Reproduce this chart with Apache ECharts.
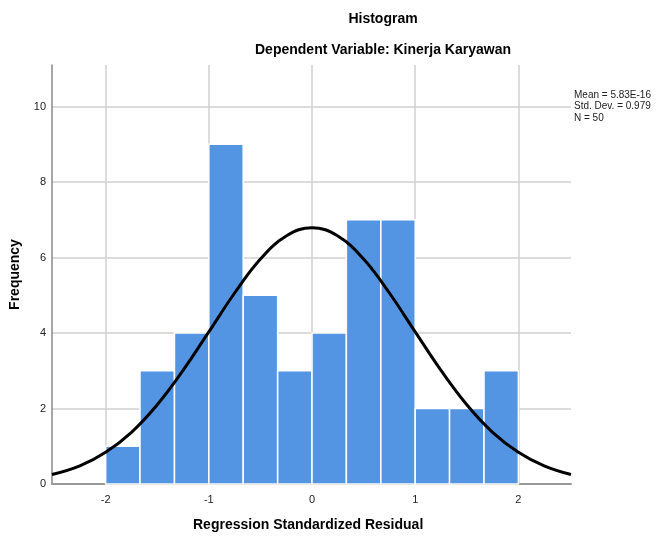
<!DOCTYPE html>
<html>
<head>
<meta charset="utf-8">
<script src="https://cdn.jsdelivr.net/npm/echarts@6/dist/echarts.min.js"></script>
<style>
html,body{margin:0;padding:0;background:#fff;}
#chart{width:656px;height:543px;}
</style>
</head>
<body>
<div id="chart"></div>
<script>
// Histogram bins (lower edges / upper edges) and frequencies
const binLow  = [-2.0, -1.667, -1.333, -1.0, -0.667, -0.333, 0.0, 0.333, 0.667, 1.0, 1.333, 1.667];
const binHigh = [-1.667, -1.333, -1.0, -0.667, -0.333, 0.0, 0.333, 0.667, 1.0, 1.333, 1.667, 2.0];
const counts  = [1, 3, 4, 9, 5, 3, 4, 7, 7, 2, 2, 3];

// Normal curve points
const curveX = [-2.52, -2.25, -2.0, -1.75, -1.5, -1.25, -1.0, -0.75, -0.5, -0.25, 0, 0.25, 0.5, 0.75, 1.0, 1.25, 1.5, 1.75, 2.0, 2.25, 2.51];
const curveY = [0.25, 0.48, 0.84, 1.37, 2.10, 3.01, 4.03, 5.06, 5.96, 6.57, 6.79, 6.57, 5.96, 5.06, 4.03, 3.01, 2.10, 1.37, 0.84, 0.48, 0.25];

const xTicks = [-2, -1, 0, 1, 2];
const yTicks = [0, 2, 4, 6, 8, 10];

const titleText = 'Histogram';
const subtitleText = 'Dependent Variable: Kinerja Karyawan';
const statsLines = ['Mean = 5.83E-16', 'Std. Dev. = 0.979', 'N = 50'];
const xName = 'Regression Standardized Residual';
const yName = 'Frequency';

const FONT = '"Liberation Sans", Arial, sans-serif';

const barData = binLow.map((lo, i) => [lo, binHigh[i], counts[i]]);
const curveData = curveX.map((x, i) => [x, curveY[i]]);

const chart = echarts.init(document.getElementById('chart'), null, {renderer: 'canvas'});
chart.setOption({
  backgroundColor: '#ffffff',
  animation: false,
  textStyle: {fontFamily: FONT},
  title: [
    {text: titleText, left: 378, top: 7, textAlign: 'center',
     textStyle: {fontFamily: FONT, fontSize: 14, fontWeight: 'bold', color: '#000'}},
    {text: subtitleText, left: 378, top: 38, textAlign: 'center',
     textStyle: {fontFamily: FONT, fontSize: 14, fontWeight: 'bold', color: '#000'}}
  ],
  graphic: [
    {type: 'text', left: 574, top: 89,
     style: {text: statsLines.join('\n'), font: '10px ' + FONT, fill: '#222', lineHeight: 11.5}},
    {type: 'text', left: 193, top: 518,
     style: {text: xName, font: 'bold 14px ' + FONT, fill: '#000'}}
  ],
  grid: {left: 50, right: 85, top: 65, bottom: 59, containLabel: false},
  xAxis: {
    type: 'value', min: -2.52, max: 2.51,
    axisLine: {show: true, onZero: false, lineStyle: {color: '#999', width: 2}},
    axisTick: {show: false, customValues: xTicks},
    axisLabel: {customValues: xTicks, color: '#222', fontSize: 11, margin: 10, fontFamily: FONT},
    splitLine: {show: true, lineStyle: {color: '#d0d0d0', width: 1.5}}
  },
  yAxis: {
    type: 'value', min: 0, max: 11.1,
    name: yName, nameLocation: 'middle', nameGap: 30, nameRotate: 90,
    nameTextStyle: {fontFamily: FONT, fontSize: 14, fontWeight: 'bold', color: '#000'},
    axisLine: {show: true, onZero: false, lineStyle: {color: '#888', width: 1.5}},
    axisTick: {show: false, customValues: yTicks},
    axisLabel: {customValues: yTicks, color: '#222', fontSize: 11, margin: 6, fontFamily: FONT},
    splitLine: {show: true, lineStyle: {color: '#d0d0d0', width: 1.5}}
  },
  series: [
    {
      type: 'custom',
      data: barData,
      encode: {x: [0, 1], y: 2},
      renderItem: function (params, api) {
        const p0 = api.coord([api.value(0), 0]);
        const p1 = api.coord([api.value(1), api.value(2)]);
        return {
          type: 'rect',
          shape: {x: p0[0], y: p1[1], width: p1[0] - p0[0], height: p0[1] - p1[1]},
          style: {fill: '#5495e3', stroke: '#ffffff', lineWidth: 1.5}
        };
      },
      z: 2
    },
    {
      type: 'line',
      data: curveData,
      smooth: 0.4,
      symbol: 'none',
      clip: true,
      lineStyle: {color: '#000', width: 3},
      z: 3
    }
  ]
});
</script>
</body>
</html>
